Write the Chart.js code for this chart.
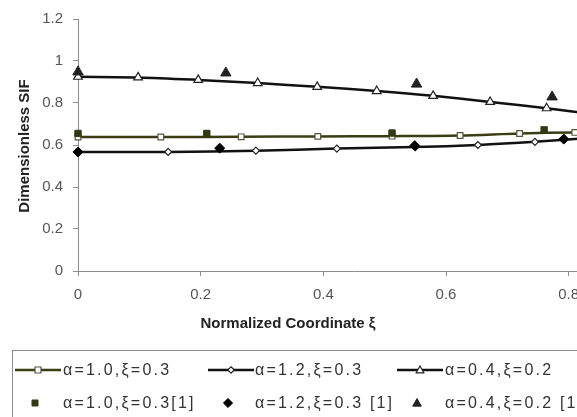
<!DOCTYPE html>
<html>
<head>
<meta charset="utf-8">
<script src="https://cdn.jsdelivr.net/npm/chart.js@4.4.0/dist/chart.umd.min.js"></script>
<style>
    html, body { margin: 0; padding: 0; background: #fff; overflow: hidden; }
    #wrap { width: 660px; height: 417px; }
</style>
</head>
<body>
<div id="wrap"><canvas id="sifChart" width="660" height="417"></canvas></div>
<script>
// tick labels
const xTicks = [0, 0.2, 0.4, 0.6, 0.8];
const yTicks = [0, 0.2, 0.4, 0.6, 0.8, 1, 1.2];

// series names (legend)
const seriesNames = ['α=1.0,ξ=0.3', 'α=1.2,ξ=0.3', 'α=0.4,ξ=0.2',
                     'α=1.0,ξ=0.3[1]', 'α=1.2,ξ=0.3 [1]', 'α=0.4,ξ=0.2 [1]'];

// present model (lines)
const xA10 = [0, 0.135, 0.266, 0.391, 0.512, 0.623, 0.72, 0.81];
const yA10 = [0.638, 0.638, 0.639, 0.641, 0.642, 0.645, 0.655, 0.66];
const xA12 = [0, 0.147, 0.29, 0.422, 0.55, 0.652, 0.745, 0.84];
const yA12 = [0.567, 0.567, 0.573, 0.583, 0.59, 0.6, 0.615, 0.635];
const xA04 = [0, 0.098, 0.196, 0.293, 0.39, 0.487, 0.579, 0.672, 0.764, 0.861];
const yA04 = [0.925, 0.922, 0.91, 0.895, 0.877, 0.857, 0.834, 0.805, 0.775, 0.74];

// reference [1] (markers only)
const xRef10 = [0, 0.21, 0.512, 0.76];
const yRef10 = [0.655, 0.655, 0.657, 0.672];
const xRef12 = [0, 0.231, 0.549, 0.792];
const yRef12 = [0.567, 0.585, 0.597, 0.628];
const xRef04 = [0, 0.241, 0.552, 0.773];
const yRef04 = [0.948, 0.943, 0.89, 0.829];

const pts = (xs, ys) => xs.map((x, i) => ({ x: x, y: ys[i] }));

const OLIVE = '#3b3d12';

// วาด title ของแกน + legend แบบกล่องสองแถว
const extrasPlugin = {
    id: 'extras',
    afterDraw(chart) {
        const ctx = chart.ctx;
        ctx.save();
        ctx.fillStyle = '#222';
        ctx.textAlign = 'center';
        ctx.textBaseline = 'middle';
        ctx.font = 'bold 15px "Liberation Sans", Arial, sans-serif';
        ctx.fillText('Normalized Coordinate ξ', 288, 324);

        ctx.save();
        ctx.translate(25, 146);
        ctx.rotate(-Math.PI / 2);
        ctx.fillText('Dimensionless SIF', 0, 0);
        ctx.restore();

        // legend box
        ctx.strokeStyle = '#8c8c8c';
        ctx.lineWidth = 1;
        ctx.strokeRect(12.5, 350.5, 700, 100);

        const colLine = [15, 208, 397];
        const colText = [63, 255, 445];
        const rowY = [370, 403];
        ctx.font = '16px "Liberation Sans", Arial, sans-serif';
        ctx.textAlign = 'left';
        if ('letterSpacing' in ctx) ctx.letterSpacing = '2.2px';

        chart.data.datasets.forEach((ds, i) => {
            const row = i < 3 ? 0 : 1;
            const col = i % 3;
            const y = rowY[row];
            let cx;
            if (row === 0) {
                ctx.strokeStyle = ds.borderColor;
                ctx.lineWidth = ds.borderWidth;
                ctx.beginPath();
                ctx.moveTo(colLine[col], y);
                ctx.lineTo(colLine[col] + 46, y);
                ctx.stroke();
                cx = colLine[col] + 23;
            } else {
                cx = colLine[col] + 20;
            }
            drawMarker(ctx, ds.pointStyle, cx, y, row === 0 ? ds.pointRadius - 1 : ds.pointRadius - 1.5,
                ds.pointBackgroundColor, ds.pointBorderColor, ds.pointBorderWidth);
            ctx.fillStyle = '#333';
            ctx.fillText(ds.label, colText[col], y + 1);
        });
        ctx.restore();
    }
};

function drawMarker(ctx, style, x, y, r, fill, stroke, bw) {
    ctx.save();
    ctx.fillStyle = fill;
    ctx.strokeStyle = stroke;
    ctx.lineWidth = bw;
    ctx.beginPath();
    if (style === 'rect') {
        ctx.rect(x - r, y - r, 2 * r, 2 * r);
    } else if (style === 'rectRot') {
        ctx.moveTo(x, y - r * 1.3);
        ctx.lineTo(x + r * 1.3, y);
        ctx.lineTo(x, y + r * 1.3);
        ctx.lineTo(x - r * 1.3, y);
        ctx.closePath();
    } else {
        ctx.moveTo(x, y - r);
        ctx.lineTo(x + r * 0.95, y + r * 0.7);
        ctx.lineTo(x - r * 0.95, y + r * 0.7);
        ctx.closePath();
    }
    ctx.fill();
    ctx.stroke();
    ctx.restore();
}

const lineSet = (label, data, color, style, radius) => ({
    label: label,
    data: data,
    borderColor: color,
    borderWidth: 2.5,
    tension: 0.3,
    clip: false,
    pointStyle: style,
    pointRadius: radius,
    pointBackgroundColor: '#ffffff',
    pointBorderColor: color === OLIVE ? '#55553a' : '#222',
    pointBorderWidth: 1.2,
    order: 2
});

const refSet = (label, data, color, style, radius) => ({
    label: label,
    data: data,
    showLine: false,
    clip: false,
    borderColor: color,
    borderWidth: 1,
    pointStyle: style,
    pointRadius: radius,
    pointBackgroundColor: color,
    pointBorderColor: color,
    pointBorderWidth: 1,
    order: 1
});

new Chart(document.getElementById('sifChart'), {
    type: 'line',
    data: {
        datasets: [
            lineSet(seriesNames[0], pts(xA10, yA10), OLIVE, 'rect', 4),
            lineSet(seriesNames[1], pts(xA12, yA12), '#111111', 'rectRot', 3.5),
            lineSet(seriesNames[2], pts(xA04, yA04), '#111111', 'triangle', 5),
            refSet(seriesNames[3], pts(xRef10, yRef10), '#2f3a12', 'rect', 4.5),
            refSet(seriesNames[4], pts(xRef12, yRef12), '#000000', 'rectRot', 5),
            refSet(seriesNames[5], pts(xRef04, yRef04), '#222222', 'triangle', 6)
        ]
    },
    options: {
        responsive: false,
        animation: false,
        layout: { padding: { left: 0, top: 19, right: 30, bottom: 0 } },
        plugins: {
            legend: { display: false },
            tooltip: { enabled: false }
        },
        scales: {
            x: {
                type: 'linear',
                min: 0,
                max: 0.9,
                afterBuildTicks: (s) => { s.ticks = xTicks.map(v => ({ value: v })); },
                afterFit: (s) => { s.height = 417 - 271; },
                border: { color: '#8c8c8c', width: 1 },
                grid: { drawOnChartArea: false, color: '#8c8c8c', tickLength: 5 },
                ticks: {
                    color: '#555',
                    padding: 10,
                    maxRotation: 0,
                    font: { family: '"Liberation Sans", Arial, sans-serif', size: 15 },
                    callback: (v) => +v.toFixed(1)
                }
            },
            y: {
                min: 0,
                max: 1.2,
                afterBuildTicks: (s) => { s.ticks = yTicks.map(v => ({ value: v })); },
                afterFit: (s) => { s.width = 78; },
                border: { color: '#8c8c8c', width: 1 },
                grid: { drawOnChartArea: false, color: '#8c8c8c', tickLength: 5 },
                ticks: {
                    color: '#555',
                    padding: 10,
                    font: { family: '"Liberation Sans", Arial, sans-serif', size: 15 },
                    callback: (v) => +v.toFixed(1)
                }
            }
        }
    },
    plugins: [extrasPlugin]
});
</script>
</body>
</html>
